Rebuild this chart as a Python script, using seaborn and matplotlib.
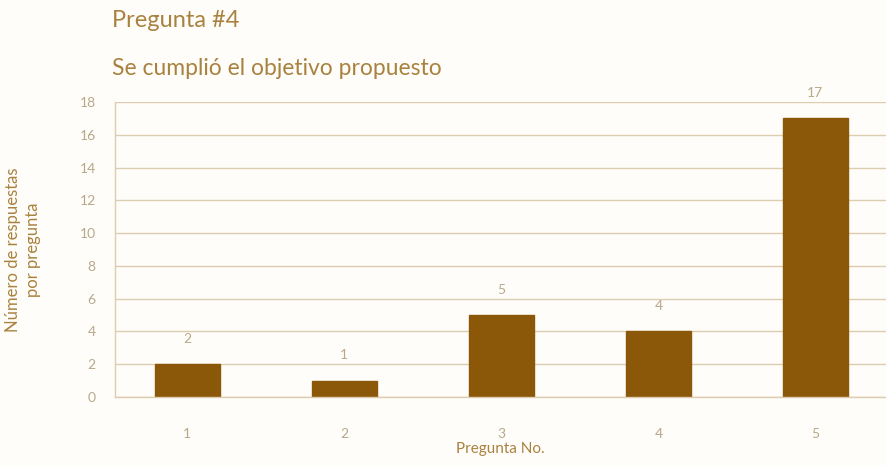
import matplotlib
matplotlib.use("Agg")
import matplotlib.pyplot as plt
import seaborn as sns
import pandas as pd

categories = ["1", "2", "3", "4", "5"]
values = [2, 1, 5, 4, 17]
yticks = [0, 2, 4, 6, 8, 10, 12, 14, 16, 18]

title1 = "Pregunta #4"
title2 = "Se cumplió el objetivo propuesto"
xlabel = "Pregunta No."
ylabel = "Número de respuestas\npor pregunta"

sns.set_theme(style="white")
plt.rcParams['font.family'] = ['Lato', 'DejaVu Sans']

bar_color = "#8A5808"
text_color = "#A9823F"
tick_color = "#B8A88A"
grid_color = "#DCCDB0"
bg = "#FFFDF9"

df = pd.DataFrame({"cat": categories, "val": values})

fig = plt.figure(figsize=(8.86, 4.66), dpi=100, facecolor=bg)
ax = fig.add_axes([0.13, 0.148, 0.87, 0.633])
ax.set_facecolor(bg)

sns.barplot(data=df, x="cat", y="val", color=bar_color, width=0.41, ax=ax,
            saturation=1, edgecolor=bar_color)

ax.set_ylim(0, 18)
ax.set_xlim(-0.46, 4.45)
ax.set_yticks(yticks)
ax.set_yticklabels([str(t) for t in yticks])
ax.yaxis.grid(True, color=grid_color, linewidth=1)
ax.set_axisbelow(True)
for s in ["top", "right"]:
    ax.spines[s].set_visible(False)
for s in ["left", "bottom"]:
    ax.spines[s].set_color(grid_color)
    ax.spines[s].set_linewidth(1)

ax.tick_params(axis="y", colors=tick_color, labelsize=10, length=0, pad=14)
ax.tick_params(axis="x", colors=tick_color, labelsize=10, length=0, pad=22)

for i, v in enumerate(values):
    ax.annotate(str(v), (i, v), xytext=(0, 14), textcoords="offset points",
                ha="center", va="bottom", color=tick_color, fontsize=10)

ax.set_xlabel(xlabel, color=text_color, fontsize=11, labelpad=2)
ax.set_ylabel(ylabel, color=text_color, fontsize=12, labelpad=28, linespacing=1.3)

fig.text(0.126, 0.955, title1, color=text_color, fontsize=17, va="center", ha="left")
fig.text(0.126, 0.853, title2, color=text_color, fontsize=16.5, va="center", ha="left")

fig.savefig("out.png", dpi=100, facecolor=bg)
